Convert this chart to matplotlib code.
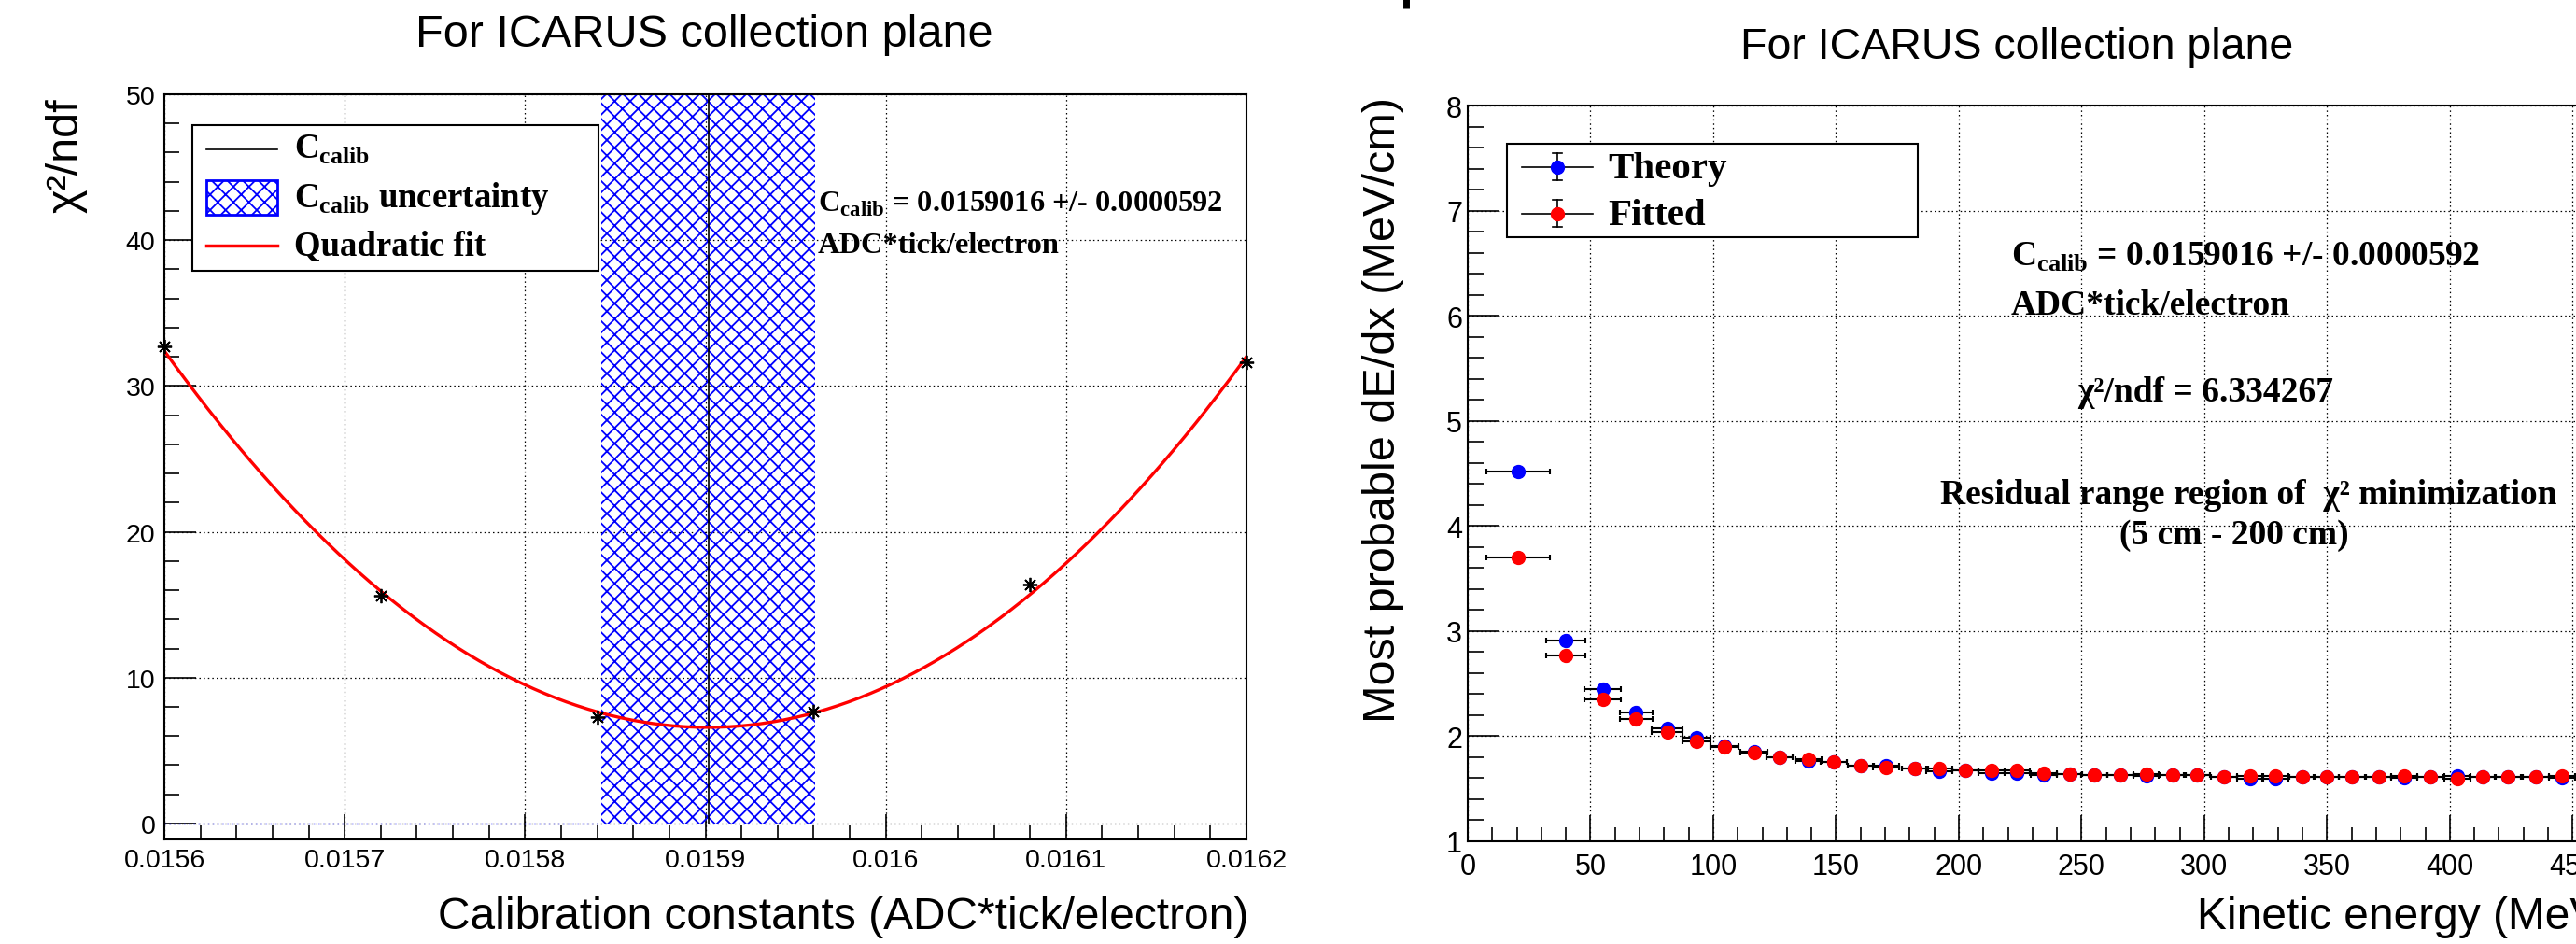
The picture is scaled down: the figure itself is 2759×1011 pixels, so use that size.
import numpy as np
import matplotlib
matplotlib.use('Agg')
import matplotlib.pyplot as plt
from matplotlib.ticker import MultipleLocator, FuncFormatter
from matplotlib.patches import Rectangle

plt.rcParams['font.family'] = ['Liberation Sans', 'DejaVu Sans']
plt.rcParams['mathtext.fontset'] = 'custom'
plt.rcParams['mathtext.bf'] = 'Liberation Serif:bold'
plt.rcParams['mathtext.rm'] = 'Liberation Serif:bold'
plt.rcParams['hatch.linewidth'] = 1.3

# left panel: chi2/ndf scan over calibration constant
c_points = [0.0156, 0.01572, 0.01584, 0.01596, 0.01608, 0.0162]
chi2_points = [32.7, 15.6, 7.3, 7.7, 16.4, 31.6]
c_calib = 0.0159016
c_err = 0.0000592

# right panel: most probable dE/dx vs kinetic energy
ke = [20.6, 40, 55, 68.6, 81.2, 93.2, 104.6, 116.6, 127.0, 138.7,
      149.1, 160.0, 170.4, 182.0, 191.9, 202.7, 213.2, 223.8, 234.5, 245.1,
      255.2, 265.8, 276.3, 287.0, 297.1, 307.9, 318.6, 329.0, 339.8, 349.7,
      360.2, 371.0, 381.6, 392.1, 403.2, 413.4, 423.8, 434.9, 445.6, 456.2]
ke_err = [13, 8.1, 7.3, 6.7, 6.1, 5.8, 5.6, 5.5, 5.4, 5.4] + [5.3] * 30
dedx_theory = [4.52, 2.91, 2.45, 2.22, 2.07, 1.98, 1.90, 1.85, 1.80, 1.76,
               1.75, 1.72, 1.72, 1.69, 1.66, 1.67, 1.65, 1.65, 1.63, 1.64,
               1.63, 1.63, 1.62, 1.63, 1.63, 1.61, 1.59, 1.59, 1.61, 1.61,
               1.61, 1.61, 1.60, 1.61, 1.62, 1.61, 1.61, 1.61, 1.60, 1.61]
dedx_fitted = [3.70, 2.77, 2.35, 2.16, 2.04, 1.95, 1.895, 1.84, 1.80, 1.78,
               1.75, 1.72, 1.70, 1.69, 1.69, 1.67, 1.67, 1.67, 1.65, 1.64,
               1.63, 1.63, 1.64, 1.63, 1.63, 1.61, 1.62, 1.62, 1.61, 1.61,
               1.61, 1.61, 1.62, 1.61, 1.59, 1.61, 1.61, 1.61, 1.62, 1.61]

W, H = 2759, 1012
fig = plt.figure(figsize=(W / 100, H / 100), dpi=100)


def px_axes(l, t, r, b):
    return fig.add_axes([l / W, 1 - b / H, (r - l) / W, (b - t) / H])


def root_style(ax, xmaj, xmin, ymaj, ymin, size, xlen, ylen, xpad, ypad):
    ax.xaxis.set_major_locator(MultipleLocator(xmaj))
    ax.xaxis.set_minor_locator(MultipleLocator(xmin))
    ax.yaxis.set_major_locator(MultipleLocator(ymaj))
    ax.yaxis.set_minor_locator(MultipleLocator(ymin))
    ax.tick_params(which='both', direction='in', top=False, right=False,
                   width=1.2, labelsize=size)
    ax.tick_params(axis='x', which='major', length=xlen[0], pad=xpad)
    ax.tick_params(axis='x', which='minor', length=xlen[1])
    ax.tick_params(axis='y', which='major', length=ylen[0], pad=ypad)
    ax.tick_params(axis='y', which='minor', length=ylen[1])
    ax.grid(True, which='major', color='black', linestyle=(0, (1.2, 2.5)),
            linewidth=0.9)
    ax.set_axisbelow(True)
    for s in ax.spines.values():
        s.set_linewidth(1.5)


# ---- left panel ----
ax1 = px_axes(176, 102, 1335, 900)
ax1.set_xlim(min(c_points), max(c_points))
ax1.set_ylim(-1.09, 50)
root_style(ax1, 0.0001, 0.00002, 10, 2, 20.5, (19.4, 10.8), (24.5, 11.5), 6.5, 7)
ax1.xaxis.set_major_formatter(FuncFormatter(lambda v, p: '%g' % round(v, 6)))

band_lo, band_hi = c_calib - c_err, c_calib + c_err
ytop = ax1.get_ylim()[1]
ax1.fill_between([band_lo, band_hi], 0, ytop, facecolor='none',
                 edgecolor='blue', hatch='xx', linewidth=0, zorder=2)
ax1.plot([min(c_points), band_lo], [0, 0], color='blue',
         linestyle=(0, (1.2, 2.5)), lw=1.0, zorder=2)
ax1.vlines(c_calib, 0, ytop, color='black', lw=1.2, zorder=3)

u = (np.array(c_points) - c_calib) * 1e4
coef = np.polyfit(u, chi2_points, 2)
xf = np.linspace(min(c_points), max(c_points), 300)
ax1.plot(xf, np.polyval(coef, (xf - c_calib) * 1e4), color='red', lw=2.4, zorder=4)
ax1.plot(c_points, chi2_points, linestyle='none', marker=(8, 2, 0),
         markersize=11, markeredgewidth=1.3, color='black', zorder=5,
         clip_on=False)

# ---- right panel ----
ax2 = px_axes(1572, 114, 2800, 901.7)
ax2.set_xlim(0, 467)
ax2.set_ylim(1, 8)
root_style(ax2, 50, 10, 1, 0.2, 22, (20, 11), (24.5, 12), 8.6, 4.3)

for yv, col, z in [(dedx_theory, 'blue', 3), (dedx_fitted, 'red', 4)]:
    ax2.errorbar(ke, yv, xerr=ke_err, fmt='o', ms=10, mfc=col, mec=col,
                 ecolor='black', elinewidth=1.5, capsize=2.5, capthick=1.5,
                 zorder=z)

# ---- overlay in pixel coordinates for titles, legends, notes ----
ov = fig.add_axes([0, 0, 1, 1], zorder=10)
ov.set_xlim(0, W)
ov.set_ylim(H, 0)
ov.axis('off')
ov.patch.set_alpha(0)

sans = dict(family=['Liberation Sans', 'DejaVu Sans'])
serif = dict(family=['Liberation Serif', 'DejaVu Serif'], weight='bold')

ov.text(754, 50, 'For ICARUS collection plane', ha='center', va='baseline',
        fontsize=35, **sans)
ov.text(2160, 63, 'For ICARUS collection plane', ha='center', va='baseline',
        fontsize=33.5, **sans)
ov.text(1337, 995, 'Calibration constants (ADC*tick/electron)', ha='right',
        va='baseline', fontsize=34.5, **sans)
ov.text(2800, 995, 'Kinetic energy (MeV)', ha='right', va='baseline',
        fontsize=34.5, **sans)
ov.text(71, 105, 'χ²/ndf', rotation=90, ha='center', va='top',
        fontsize=35, **sans)
ov.text(1482, 104, 'Most probable dE/dx (MeV/cm)', rotation=90, ha='center',
        va='top', fontsize=35, **sans)
ov.plot([1506, 1506], [0, 10], color='black', lw=5, solid_capstyle='butt')

# left legend
ov.add_patch(Rectangle((206, 135), 435, 156, facecolor='white',
                       edgecolor='black', lw=1.5))
ov.plot([221, 297], [161, 161], color='black', lw=1.2)
ov.add_patch(Rectangle((221, 194), 76, 37, facecolor='none', edgecolor='blue',
                       hatch='xx', lw=2))
ov.plot([221, 297], [264, 264], color='red', lw=2.5)
ov.text(315, 170, r'C$_{\mathbf{calib}}$', va='baseline', fontsize=26.5, **serif)
ov.text(315, 222, r'C$_{\mathbf{calib}}$ uncertainty', va='baseline',
        fontsize=26.5, **serif)
ov.text(315, 273, 'Quadratic fit', va='baseline', fontsize=26.5, **serif)

# left note
ov.text(876, 227, r'C$_{\mathbf{calib}}$ = 0.0159016 +/- 0.0000592',
        va='baseline', fontsize=23.3, **serif)
ov.text(876, 271, 'ADC*tick/electron', va='baseline', fontsize=23.3, **serif)

# right legend
ov.add_patch(Rectangle((1614, 154.5), 440, 100.5, facecolor='white',
                       edgecolor='black', lw=1.5))
for yc, col, lab in [(179.5, 'blue', 'Theory'), (229.5, 'red', 'Fitted')]:
    ov.plot([1630, 1706], [yc, yc], color='black', lw=1.2)
    ov.plot([1668, 1668], [yc - 14.5, yc + 14.5], color='black', lw=1.2)
    ov.plot([1663, 1673], [yc - 14.5, yc - 14.5], color='black', lw=1.2)
    ov.plot([1663, 1673], [yc + 14.5, yc + 14.5], color='black', lw=1.2)
    ov.plot([1668], [yc], 'o', ms=10, color=col)
    ov.text(1722.6, yc + 11, lab, va='baseline', fontsize=29.5, **serif)

# right notes
ov.text(2154, 285, r'C$_{\mathbf{calib}}$ = 0.0159016 +/- 0.0000592',
        va='baseline', fontsize=27, **serif)
ov.text(2154, 336.7, 'ADC*tick/electron', va='baseline', fontsize=27, **serif)
ov.text(2362, 430, 'χ²/ndf = 6.334267', ha='center', va='baseline',
        fontsize=27, **serif)
ov.text(2408, 540, 'Residual range region of  χ² minimization', ha='center',
        va='baseline', fontsize=27, **serif)
ov.text(2393, 583, '(5 cm - 200 cm)', ha='center', va='baseline',
        fontsize=27, **serif)

fig.savefig('out.png', dpi=100)
